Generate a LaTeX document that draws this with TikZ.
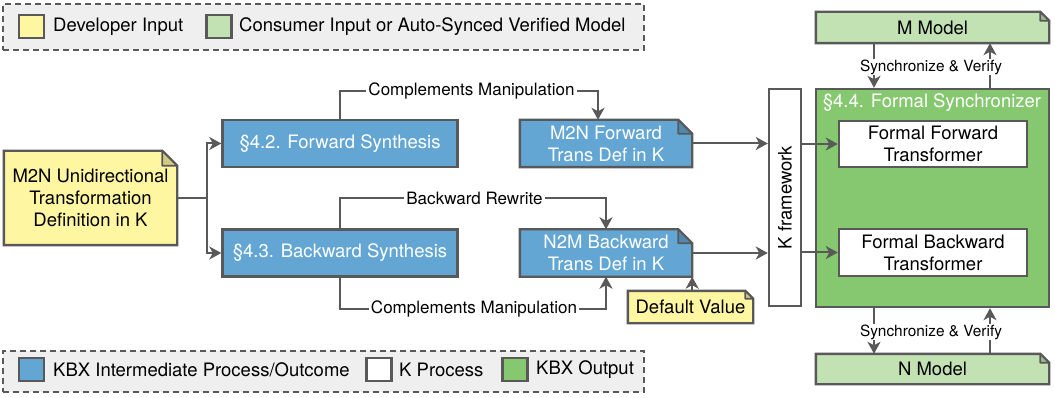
\documentclass[tikz,border=0pt]{standalone}
\usepackage{fontspec}
\setmainfont{TeX Gyre Heros}
\usetikzlibrary{arrows.meta,calc,backgrounds}
\definecolor{lncol}{HTML}{595959}
\definecolor{blu}{HTML}{63A6D4}
\definecolor{yel}{HTML}{FFF6A1}
\definecolor{lgr}{HTML}{C2E2B3}
\definecolor{dgr}{HTML}{85C870}
\definecolor{lbg}{HTML}{EFEFEF}
\tikzset{
  mainfont/.style={font=\fontsize{18.5}{22}\selectfont},
  box/.style={draw=lncol, line width=2.4pt, inner sep=0pt, align=center, mainfont},
  bluebox/.style={box, fill=blu, text=white},
  notebox/.style={inner sep=0pt, align=center, mainfont},
  conn/.style={draw=lncol, line width=2pt},
  arr/.style={conn, -{Stealth[length=12pt,width=13pt,inset=3.5pt]}},
  lab/.style={inner sep=2pt, font=\fontsize{17}{20}\selectfont},
  svlab/.style={fill=white, inner sep=1pt, font=\fontsize{15.4}{18}\selectfont},
  legtext/.style={anchor=west, inner sep=0pt, mainfont},
  swatch/.style={draw=lncol, line width=2.4pt, minimum width=25pt, minimum height=23pt, inner sep=0pt},
  legbox/.style={draw=lncol, line width=1.6pt, dash pattern=on 6pt off 4pt, fill=lbg, inner sep=0pt},
}
\newcommand\notefill[3]{%
  \path[fill=#2, draw=lncol, line width=2.4pt, line join=miter] (#1.north west) -- ([xshift=-#3pt]#1.north east) -- ([yshift=-#3pt]#1.north east) -- (#1.south east) -- (#1.south west) -- cycle;
  \path[fill=#2!82!black, draw=lncol, line width=1.8pt, line join=round] ([xshift=-#3pt]#1.north east) -- ([xshift=-#3pt,yshift=-#3pt]#1.north east) -- ([yshift=-#3pt]#1.north east) -- cycle;}
\begin{document}
\begin{tikzpicture}[x=1pt, y=-1pt]
\useasboundingbox (0,0) rectangle (1055,398);

% legends
\node[legbox, minimum width=641pt, minimum height=46pt] (leg1) at (323.5,27) {};
\node[swatch, fill=yel] (swy) at (31.5,26.5) {};
\node[legtext] (ly) at (53,27) {Developer Input};
\node[swatch, fill=lgr] (swg) at (219,26.5) {};
\node[legtext] (lg) at (239,27) {Consumer Input or Auto-Synced Verified Model};

\node[legbox, minimum width=641pt, minimum height=41pt] (leg2) at (323.5,371.5) {};
\node[swatch, fill=blu] (swb) at (31.5,369.5) {};
\node[legtext] (lb) at (53,370) {KBX Intermediate Process/Outcome};
\node[swatch, fill=white] (sww) at (379,369.5) {};
\node[legtext] (lw) at (399,370) {K Process};
\node[swatch, fill=dgr] (swd) at (515,369.5) {};
\node[legtext] (ld) at (536,370) {KBX Output};

% main nodes
\node[notebox, minimum width=173pt, minimum height=94pt] (m2n) at (90.5,198) {M2N Unidirectional\\Transformation\\Definition in K};
\node[bluebox, minimum width=235pt, minimum height=47pt] (fwd) at (340,143.5) {\S4.2. Forward Synthesis};
\node[bluebox, minimum width=235pt, minimum height=47pt] (bwd) at (340,253) {\S4.3. Backward Synthesis};
\node[notebox, text=white, minimum width=172pt, minimum height=47pt] (m2nf) at (606,143.5) {M2N Forward\\Trans Def in K};
\node[notebox, text=white, minimum width=172pt, minimum height=47pt] (n2mb) at (606,253) {N2M Backward\\Trans Def in K};
\node[notebox, minimum width=125pt, minimum height=32pt] (defv) at (690.5,307) {Default Value};
\node[box, fill=white, minimum width=32pt, minimum height=217pt] (kfw) at (785,197.5) {};
\node[mainfont, rotate=90, inner sep=0pt] (kfwt) at (kfw.center) {K framework};
\node[box, fill=dgr, minimum width=233pt, minimum height=218pt] (sync) at (932.5,198) {};
\node[mainfont, text=white, inner sep=0pt] (synct) at (932,103) {\S4.4. Formal Synchronizer};
\node[box, fill=white, minimum width=188pt, minimum height=46pt] (ffwd) at (933,144) {Formal Forward\\Transformer};
\node[box, fill=white, minimum width=188pt, minimum height=47pt] (fbwd) at (933,252.5) {Formal Backward\\Transformer};
\node[notebox, minimum width=233pt, minimum height=31pt] (mmod) at (932.5,27.5) {M Model};
\node[notebox, minimum width=233pt, minimum height=30pt] (nmod) at (932.5,369) {N Model};

\begin{pgfonlayer}{background}
\notefill{m2n}{yel}{15}
\notefill{m2nf}{blu}{14}
\notefill{n2mb}{blu}{14}
\notefill{defv}{yel}{8}
\notefill{mmod}{lgr}{9}
\notefill{nmod}{lgr}{9}
\end{pgfonlayer}

% connectors
\coordinate (j) at (207,198);
\draw[conn] (m2n.east) -- (j);
\draw[arr] (j) |- (fwd.west);
\draw[arr] (j) |- (bwd.west);

\node[lab] (cm1) at (471.5,91) {Complements Manipulation};
\draw[conn] (fwd.north) |- (cm1.west);
\draw[arr] (cm1.east) -| ([xshift=-8pt]m2nf.north);

\node[lab] (br) at (474.5,198) {Backward Rewrite};
\draw[conn] (bwd.north) |- (br.west);
\draw[arr] (br.east) -| (n2mb.north);

\node[lab] (cm2) at (474,309) {Complements Manipulation};
\draw[conn] (bwd.south) |- (cm2.west);
\draw[arr] (cm2.east) -| (n2mb.south);

\draw[arr] (defv.north -| n2mb.south east) -- (n2mb.south east);

\draw[arr] (m2nf.east) -- (m2nf.east -| kfw.west);
\draw[arr] (n2mb.east) -- (n2mb.east -| kfw.west);
\draw[arr] (kfw.east |- ffwd.west) -- (ffwd.west);
\draw[arr] (kfw.east |- fbwd.west) -- (fbwd.west);

\draw[arr] ([xshift=-58.5pt]mmod.south) -- ([xshift=-58.5pt]sync.north);
\draw[arr] ([xshift=57.5pt]sync.north) -- ([xshift=57.5pt]mmod.south);
\node[svlab] (sv1) at (931,67) {Synchronize \& Verify};

\draw[arr] ([xshift=-58.5pt]sync.south) -- ([xshift=-58.5pt]nmod.north);
\draw[arr] ([xshift=57.5pt]nmod.north) -- ([xshift=57.5pt]sync.south);
\node[svlab] (sv2) at (931,332) {Synchronize \& Verify};
\end{tikzpicture}
\end{document}
